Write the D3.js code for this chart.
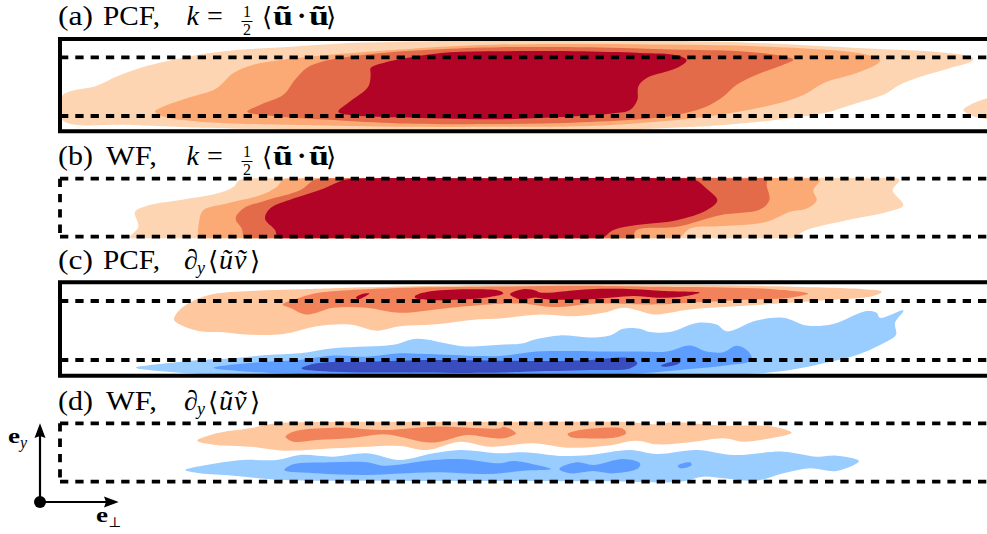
<!DOCTYPE html>
<html>
<head>
<meta charset="utf-8">
<script src="https://cdn.jsdelivr.net/npm/d3@7"></script>
<style>
  html, body { margin: 0; padding: 0; background: #fff; }
  svg { display: block; }
  text { font-family: "Liberation Serif", serif; fill: #000; }
</style>
</head>
<body>
<div id="chart"></div>
<script>
// contour outlines, [x, height above the lower dashed line]
const aLight = [[187,60],[290,90],[350,118],[420,143],[500,163],[600,183],[700,196],[850,205],[1000,215],[1200,221],[1470,225],[1770,223],[2070,223],[2270,218],[2470,208],[2670,198],[2820,190],[2920,173],[2915,163],[2850,143],[2750,113],[2700,93],[2650,63],[2570,38],[2470,8],[2370,-7],[2170,-27],[1970,-37],[1770,-40],[1500,-40],[1000,-40],[700,-37],[400,-27],[187,-12]]
const aLightRight = [[3000,60],[2961,53],[2910,33],[2890,18],[2910,3],[2961,-10],[3000,-15]]
const aOrange = [[465,13],[490,28],[560,53],[650,83],[700,128],[760,153],[850,168],[1000,183],[1200,198],[1300,205],[1500,213],[1770,215],[2020,213],[2270,208],[2470,198],[2590,185],[2640,168],[2635,158],[2570,128],[2470,98],[2420,68],[2370,48],[2270,23],[2120,-2],[1970,-17],[1770,-30],[1500,-32],[1200,-32],[900,-27],[600,-17],[500,-4]]
const aRed = [[742,13],[780,33],[850,63],[885,108],[920,143],[970,163],[1100,183],[1300,198],[1500,205],[1770,205],[2020,198],[2220,193],[2320,183],[2380,168],[2350,153],[2270,123],[2210,93],[2170,58],[2120,28],[2030,3],[1920,-10],[1720,-20],[1500,-24],[1200,-22],[1000,-12],[820,0]]
const aDark = [[1015,13],[1050,43],[1105,88],[1112,123],[1112,143],[1150,158],[1250,178],[1350,190],[1500,193],[1720,193],[1920,188],[2030,181],[2060,166],[2030,143],[1940,113],[1915,88],[1912,48],[1890,18],[1840,8],[1670,-4],[1470,-10],[1200,-4],[1050,3]]

const bLight = [[390,-4],[415,30],[405,75],[440,93],[550,112],[650,130],[700,150],[720,172],[800,176],[1500,176],[2600,176],[2698,172],[2678,140],[2710,95],[2670,77],[2550,52],[2420,20],[2375,-5],[2300,-8],[1500,-8],[480,-8]]
const bOrange = [[600,-3],[598,50],[610,80],[680,100],[780,125],[830,150],[850,172],[930,176],[1500,176],[2380,176],[2460,172],[2440,140],[2450,110],[2420,85],[2370,75],[2300,45],[2170,32],[2070,25],[2035,-5],[1960,-8],[1300,-8],[680,-8]]
const bRed = [[735,-3],[725,25],[707,55],[730,85],[800,110],[900,140],[945,172],[1020,176],[1500,176],[2220,176],[2300,172],[2300,155],[2308,110],[2280,82],[2160,65],[2030,30],[1910,20],[1895,-5],[1820,-8],[1300,-8],[810,-8]]
const bDark = [[835,-3],[825,20],[795,55],[810,85],[880,115],[970,145],[1035,172],[1110,176],[1500,176],[2010,176],[2085,172],[2120,145],[2152,110],[2120,80],[2030,50],[1910,35],[1840,20],[1805,-5],[1730,-8],[1300,-8],[910,-8]]

const cPos1 = [[522,120],[540,150],[590,180],[650,197],[800,207],[900,210],[1000,213],[1200,218],[1500,223],[1770,225],[2070,223],[2270,220],[2470,215],[2590,210],[2645,203],[2620,190],[2520,180],[2370,170],[2220,160],[2070,150],[1960,135],[1920,145],[1870,155],[1810,140],[1720,130],[1620,135],[1500,123],[1430,120],[1300,105],[1200,100],[1130,87],[1050,105],[950,100],[850,77],[750,75],[660,83],[600,85],[540,105]]
const cPos2 = [[848,165],[900,185],[960,200],[1100,210],[1250,215],[1500,218],[1770,220],[1970,217],[2170,215],[2320,210],[2425,197],[2370,185],[2270,180],[2070,170],[1970,165],[1870,167],[1770,167],[1670,157],[1570,167],[1500,167],[1350,155],[1200,140],[1100,155],[1000,155],[920,135],[870,155]]
const cPos3a = [[1068,185],[1085,195],[1108,197],[1095,188],[1075,180]]
const cPos3b = [[1245,190],[1280,202],[1400,210],[1500,205],[1510,197],[1470,187],[1400,180],[1300,178],[1245,185]]
const cPos3c = [[1530,195],[1570,210],[1610,205],[1620,200],[1770,210],[1900,210],[1990,205],[2100,200],[2040,187],[1970,185],[1900,190],[1770,180],[1640,180],[1610,185],[1560,180]]
const cNeg1 = [[408,-23],[500,-10],[600,0],[700,5],[800,15],[900,20],[1000,35],[1100,40],[1180,45],[1250,63],[1350,47],[1400,40],[1500,45],[1570,50],[1610,62],[1680,73],[1770,67],[1830,73],[1870,93],[1920,93],[1950,83],[2010,83],[2090,110],[2150,105],[2180,85],[2270,117],[2350,125],[2420,102],[2500,107],[2600,145],[2630,140],[2640,125],[2710,147],[2685,110],[2688,75],[2650,50],[2570,15],[2470,-10],[2370,-30],[2270,-40],[2100,-44],[1470,-44],[700,-44],[520,-36]]
const cNeg2 = [[640,-23],[700,-13],[800,-5],[900,0],[1000,13],[1100,10],[1200,20],[1300,17],[1500,12],[1610,25],[1720,27],[1820,25],[1920,25],[2000,25],[2070,43],[2120,25],[2170,23],[2210,42],[2245,25],[2255,0],[2170,-17],[2070,-27],[1920,-40],[1800,-44],[1470,-44],[1000,-44],[800,-38]]
const cNeg3a = [[905,-25],[950,-10],[1100,-5],[1300,0],[1500,-2],[1670,-3],[1770,0],[1890,5],[1912,-10],[1890,-25],[1770,-30],[1570,-35],[1470,-38],[1200,-37],[1000,-35]]
const cNeg3b = [[1983,-17],[2010,-7],[2040,-3],[2038,-10],[2000,-20]]

const dPos1 = [[592,123],[650,145],[750,160],[830,175],[900,178],[1000,180],[1470,180],[1870,180],[1970,172],[2020,178],[2170,168],[2320,165],[2375,147],[2320,132],[2230,120],[2170,130],[2070,118],[1970,112],[1910,123],[1820,108],[1700,102],[1600,115],[1470,105],[1380,120],[1280,95],[1200,107],[1100,105],[1000,100],[850,93],[750,105],[650,110]]
const dPos2a = [[857,135],[880,150],[1000,162],[1150,155],[1300,165],[1500,160],[1510,165],[1548,145],[1510,130],[1470,132],[1400,140],[1320,120],[1280,118],[1200,135],[1150,142],[1050,130],[950,125],[880,120]]
const dPos2b = [[1703,143],[1730,153],[1870,158],[1878,145],[1850,133],[1750,130],[1710,135]]
const dNeg1 = [[556,35],[620,50],[730,65],[830,65],[900,80],[1000,75],[1100,85],[1200,65],[1300,85],[1380,95],[1500,85],[1570,88],[1670,78],[1700,77],[1770,80],[1890,95],[1970,83],[2090,95],[2200,80],[2350,90],[2450,75],[2510,78],[2577,62],[2510,32],[2430,40],[2350,25],[2270,3],[2170,10],[2110,15],[2040,0],[1800,1],[1470,2],[1100,3],[850,5],[700,18],[600,25]]
const dNeg2a = [[853,35],[880,52],[1000,58],[1100,58],[1150,48],[1300,65],[1380,68],[1500,55],[1540,62],[1610,50],[1653,38],[1570,33],[1470,23],[1300,28],[1100,20],[950,25]]
const dNeg2b = [[1678,38],[1730,58],[1780,50],[1870,68],[1920,55],[1915,40],[1840,25],[1780,32],[1710,25]]
const dNeg2c = [[2033,48],[2070,58],[2075,50],[2042,40]]

const panelTags = ["(a)", "(b)", "(c)", "(d)"]
const panelNames = ["PCF,", "WF,", "PCF,", "WF,"]

const w = 987, h = 534
const left = 60

// contour colours
const energyCol = ["#fdd5b2", "#fcaa75", "#e36b49", "#b20426"]
const posCol = ["#fec79e", "#f1825a", "#b20426"]
const negCol = ["#99ccff", "#5c9dff", "#3a4dbf"]

const panels = [
  {tag: panelTags[0], name: panelNames[0], top: 57.3, bottom: 116, frame: [39, 131.3], base: 25, formula: "energy",
   shapes: [[aLight, energyCol[0]], [aLightRight, energyCol[0]], [aOrange, energyCol[1]], [aRed, energyCol[2]], [aDark, energyCol[3]]]},
  {tag: panelTags[1], name: panelNames[1], top: 178.7, bottom: 236.7, base: 165, formula: "energy",
   shapes: [[bLight, energyCol[0]], [bOrange, energyCol[1]], [bRed, energyCol[2]], [bDark, energyCol[3]]]},
  {tag: panelTags[2], name: panelNames[2], top: 301, bottom: 360, frame: [282.3, 375.7], base: 269, formula: "stress",
   shapes: [[cPos1, posCol[0]], [cPos2, posCol[1]], [cPos3a, posCol[2]], [cPos3b, posCol[2]], [cPos3c, posCol[2]],
            [cNeg1, negCol[0]], [cNeg2, negCol[1]], [cNeg3a, negCol[2]], [cNeg3b, negCol[2]]]},
  {tag: panelTags[3], name: panelNames[3], top: 423.3, bottom: 481.7, base: 410, formula: "stress",
   shapes: [[dPos1, posCol[0]], [dPos2a, posCol[1]], [dPos2b, posCol[1]],
            [dNeg1, negCol[0]], [dNeg2a, negCol[1]], [dNeg2b, negCol[1]], [dNeg2c, negCol[1]]]}
]

const svg = d3.select("#chart").append("svg")
  .attr("width", w)
  .attr("height", h)
  .style("background", "#fff")

const x = d3.scaleLinear().domain([0, 2961]).range([0, w])

function label(txt, px, py, size, opts) {
  opts = opts || {}
  const t = svg.append("text").attr("x", px).attr("y", py).attr("font-size", size).text(txt)
  if (opts.italic) t.attr("font-style", "italic")
  if (opts.bold) t.attr("font-weight", "bold")
  if (opts.anchor) t.attr("text-anchor", opts.anchor)
  if (opts.family) t.style("font-family", opts.family)
  if (opts.len) t.attr("textLength", opts.len).attr("lengthAdjust", "spacingAndGlyphs")
  return t
}

function drawFormula(p) {
  const b = p.base
  if (p.formula === "energy") {
    label("k", 186.5, b, 28, {italic: true})
    label("=", 207, b, 28)
    label("1", 247, b - 8, 16, {anchor: "middle"})
    svg.append("line").attr("x1", 241.5).attr("x2", 252.5).attr("y1", b - 3.5).attr("y2", b - 3.5)
      .attr("stroke", "#000").attr("stroke-width", 1)
    label("2", 247, b + 9.5, 16, {anchor: "middle"})
    label("\u27E8", 262, b + 1, 26, {family: "DejaVu Serif"})
    label("\u0169", 273, b, 28, {bold: true, len: 20})
    label("\u00B7", 297, b, 28, {bold: true})
    label("\u0169", 309, b, 28, {bold: true, len: 20})
    label("\u27E9", 326, b + 1, 26, {family: "DejaVu Serif"})
  } else {
    label("\u2202", 184, b, 28, {italic: true})
    label("y", 197, b + 5, 18, {italic: true})
    label("\u27E8", 208, b + 1, 26, {family: "DejaVu Serif"})
    label("\u0169", 219, b, 28, {italic: true})
    label("\u1E7D", 234, b, 28, {italic: true})
    label("\u27E9", 250, b + 1, 26, {family: "DejaVu Serif"})
  }
}

panels.forEach((p, i) => {
  const y = d3.scaleLinear().domain([0, 175]).range([p.bottom, p.top])
  const outline = d3.line()
    .x(d => x(d[0]))
    .y(d => y(d[1]))
    .curve(d3.curveCatmullRomClosed.alpha(0.5))

  // nothing spills past the frame, or past the walls on the WF panels
  const clipTop = p.frame ? p.frame[0] : p.top - 1.5
  const clipBottom = p.frame ? p.frame[1] : p.bottom + 1.5
  svg.append("clipPath").attr("id", "clip" + i)
    .append("rect")
    .attr("x", left)
    .attr("y", clipTop)
    .attr("width", w - left)
    .attr("height", clipBottom - clipTop)

  svg.append("g").attr("clip-path", "url(#clip" + i + ")")
    .selectAll("path")
    .data(p.shapes)
    .enter()
    .append("path")
    .attr("d", d => outline(d[0]))
    .attr("fill", d => d[1])

  // solid outer box only on the PCF panels
  if (p.frame) {
    svg.append("path")
      .attr("d", d3.line()([[w + 5, p.frame[0]], [left, p.frame[0]], [left, p.frame[1]], [w + 5, p.frame[1]]]))
      .attr("fill", "none")
      .attr("stroke", "#000")
      .attr("stroke-width", 4)
  }

  // dashed channel walls
  const dashed = [[[left, p.top], [w, p.top]], [[left, p.bottom], [w, p.bottom]]]
  if (!p.frame) dashed.push([[left, p.top], [left, p.bottom]])
  svg.append("g").selectAll("path")
    .data(dashed)
    .enter()
    .append("path")
    .attr("d", d => d3.line()(d))
    .attr("fill", "none")
    .attr("stroke", "#000")
    .attr("stroke-width", 3.8)
    .attr("stroke-dasharray", "8.3 7")

  label(p.tag, 58, p.base, 28, {len: 35})
  label(p.name, p.name === "WF," ? 106 : 103, p.base, 28, {len: p.name === "WF," ? 51 : 57})
  drawFormula(p)
})

// coordinate axes, bottom left
const origin = [40, 502]
const ink = "#000"
svg.append("line").attr("x1", origin[0]).attr("y1", origin[1]).attr("x2", origin[0]).attr("y2", 436)
  .attr("stroke", ink).attr("stroke-width", 2.2)
svg.append("line").attr("x1", origin[0]).attr("y1", origin[1]).attr("x2", 106).attr("y2", origin[1])
  .attr("stroke", ink).attr("stroke-width", 2.2)
svg.append("path").attr("d", "M40,423.3 L45.5,438 L40,436 L34.5,438 Z").attr("fill", ink)
svg.append("path").attr("d", "M118.7,502 L104,507.5 L106,502 L104,496.5 Z").attr("fill", ink)
svg.append("circle").attr("cx", origin[0]).attr("cy", origin[1]).attr("r", 6).attr("fill", ink)

label("e", 8, 443, 22, {bold: true, len: 12})
label("y", 20, 448, 16, {italic: true})
label("e", 96, 522, 22, {bold: true, len: 12})
label("\u22A5", 108, 527, 14, {family: "DejaVu Serif"})
</script>
</body>
</html>
